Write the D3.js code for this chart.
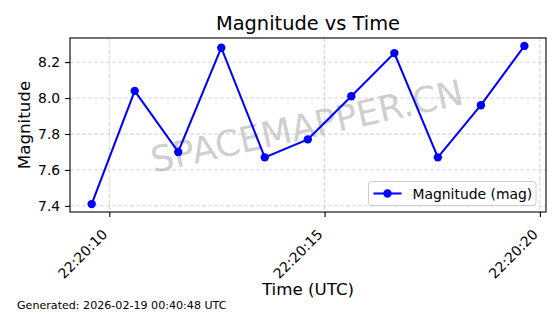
<!DOCTYPE html>
<html>
<head>
<meta charset="utf-8">
<script src="https://cdn.jsdelivr.net/npm/d3@7"></script>
<style>
    html, body { margin: 0; padding: 0; background: #fff; }
    svg { display: block; font-family: "DejaVu Sans", sans-serif; }
</style>
</head>
<body>
<div id="chart"></div>
<script>
/*
 */
var times = [
    '2026-02-18T22:20:09.590Z', '2026-02-18T22:20:10.590Z', '2026-02-18T22:20:11.600Z',
    '2026-02-18T22:20:12.600Z', '2026-02-18T22:20:13.610Z', '2026-02-18T22:20:14.610Z',
    '2026-02-18T22:20:15.620Z', '2026-02-18T22:20:16.620Z', '2026-02-18T22:20:17.630Z',
    '2026-02-18T22:20:18.630Z', '2026-02-18T22:20:19.640Z'
];
var magnitudes = [7.41, 8.04, 7.70, 8.28, 7.67, 7.77, 8.01, 8.25, 7.67, 7.96, 8.29];
var xTicks = ['2026-02-18T22:20:10Z', '2026-02-18T22:20:15Z', '2026-02-18T22:20:20Z'];
var yTicks = [7.4, 7.6, 7.8, 8.0, 8.2];
var seriesName = 'Magnitude (mag)';
var footer = 'Generated: 2026-02-19 00:40:48 UTC';

var width = 560, height = 314;
var margin = {left: 70, right: 14, top: 38, bottom: 102};
var plotW = width - margin.left - margin.right;
var plotH = height - margin.top - margin.bottom;

var data = times.map(function(t, i) {
    return {t: new Date(t), m: magnitudes[i]};
});

/*
 * Matplotlib style 5% padding around the data.
 */
function padded(extent) {
    var d = (extent[1] - extent[0]) * 0.05;
    return [extent[0] - d, extent[1] + d];
}

var tExt = d3.extent(data, d => +d.t);
var x = d3.scaleUtc()
    .domain(padded(tExt).map(v => new Date(v)))
    .range([0, plotW]);
var y = d3.scaleLinear()
    .domain(padded(d3.extent(magnitudes)))
    .range([plotH, 0]);

var svg = d3.select('#chart').append('svg')
    .attr('width', width)
    .attr('height', height);

var g = svg.append('g')
    .attr('transform', 'translate(' + margin.left + ',' + margin.top + ')');

/*
 * Grid.
 */
var grid = g.append('g').attr('class', 'grid')
    .attr('stroke', '#b0b0b0')
    .attr('stroke-opacity', 0.7)
    .attr('stroke-width', 0.8)
    .attr('stroke-dasharray', '4,2');

grid.selectAll('.gx').data(xTicks.map(d => new Date(d))).enter().append('line')
    .attr('x1', d => x(d)).attr('x2', d => x(d))
    .attr('y1', 0).attr('y2', plotH);

grid.selectAll('.gy').data(yTicks).enter().append('line')
    .attr('x1', 0).attr('x2', plotW)
    .attr('y1', d => y(d)).attr('y2', d => y(d));

/*
 * Watermark.
 */
g.append('text')
    .attr('transform', 'translate(' + (plotW / 2 - 1) + ',' + (plotH / 2 + 1) + ') rotate(-12.5)')
    .attr('text-anchor', 'middle')
    .attr('dominant-baseline', 'central')
    .attr('font-size', 35.5)
    .attr('fill', '#808080')
    .attr('fill-opacity', 0.4)
    .text('SPACEMAPPER.CN');

/*
 * Series line and markers.
 */
var line = d3.line()
    .x(d => x(d.t))
    .y(d => y(d.m));

g.append('path')
    .datum(data)
    .attr('fill', 'none')
    .attr('stroke', '#0000ff')
    .attr('stroke-width', 2.08)
    .attr('d', line);

g.selectAll('.dot').data(data).enter().append('circle')
    .attr('cx', d => x(d.t))
    .attr('cy', d => y(d.m))
    .attr('r', 4.2)
    .attr('fill', '#0000ff');

/*
 * Axes.
 */
var xAxis = g.append('g')
    .attr('transform', 'translate(0,' + plotH + ')')
    .call(d3.axisBottom(x)
        .tickValues(xTicks.map(d => new Date(d)))
        .tickFormat(d3.utcFormat('%H:%M:%S'))
        .tickSize(4.9)
        .tickPadding(4.9));
xAxis.select('.domain').remove();
xAxis.selectAll('.tick line').attr('stroke', '#000').attr('stroke-width', 1.1);
xAxis.selectAll('.tick text')
    .attr('font-size', 13.9)
    .attr('fill', '#000')
    .attr('font-family', '"DejaVu Sans", sans-serif')
    .attr('text-anchor', 'end')
    .attr('dy', null)
    .attr('y', null)
    .attr('dominant-baseline', 'hanging')
    .attr('transform', 'translate(-9,16) rotate(-45)');

var yAxis = g.append('g')
    .call(d3.axisLeft(y)
        .tickValues(yTicks)
        .tickFormat(d3.format('.1f'))
        .tickSize(4.9)
        .tickPadding(4.9));
yAxis.select('.domain').remove();
yAxis.selectAll('.tick line').attr('stroke', '#000').attr('stroke-width', 1.1);
yAxis.selectAll('.tick text')
    .attr('font-size', 13.9)
    .attr('fill', '#000')
    .attr('font-family', '"DejaVu Sans", sans-serif');

g.append('rect')
    .attr('width', plotW)
    .attr('height', plotH)
    .attr('fill', 'none')
    .attr('stroke', '#000')
    .attr('stroke-width', 1.1);

/*
 * Legend.
 */
var legend = g.append('g')
    .attr('transform', 'translate(' + (plotW - 177.5) + ',' + (plotH - 30.5) + ')');
legend.append('rect')
    .attr('width', 167.5).attr('height', 24)
    .attr('rx', 3)
    .attr('fill', '#fff').attr('fill-opacity', 0.8)
    .attr('stroke', '#cccccc').attr('stroke-width', 1);
legend.append('line')
    .attr('x1', 5).attr('x2', 33).attr('y1', 12).attr('y2', 12)
    .attr('stroke', '#0000ff').attr('stroke-width', 2.08);
legend.append('circle')
    .attr('cx', 19).attr('cy', 12).attr('r', 4.2)
    .attr('fill', '#0000ff');
legend.append('text')
    .attr('x', 44).attr('y', 12)
    .attr('dominant-baseline', 'central')
    .attr('font-size', 13.9)
    .attr('fill', '#000')
    .text(seriesName);

/*
 * Titles and labels.
 */
svg.append('text')
    .attr('x', margin.left + plotW / 2).attr('y', 30)
    .attr('text-anchor', 'middle')
    .attr('font-size', 19.4)
    .text('Magnitude vs Time');

svg.append('text')
    .attr('x', margin.left + plotW / 2).attr('y', 295)
    .attr('text-anchor', 'middle')
    .attr('font-size', 16.7)
    .text('Time (UTC)');

svg.append('text')
    .attr('transform', 'translate(30,' + (margin.top + plotH / 2) + ') rotate(-90)')
    .attr('text-anchor', 'middle')
    .attr('font-size', 16.7)
    .text('Magnitude');

svg.append('text')
    .attr('x', 17).attr('y', 309)
    .attr('font-size', 11.1)
    .text(footer);
</script>
</body>
</html>
